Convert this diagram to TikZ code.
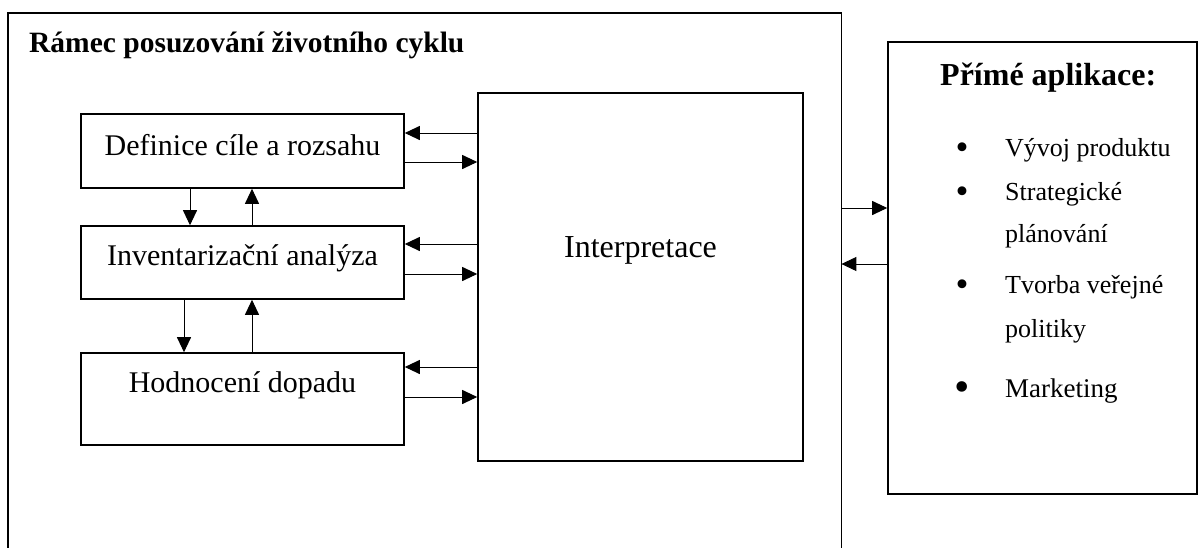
\documentclass[tikz,border=0pt]{standalone}
\usepackage{fontspec}
\setmainfont{Liberation Serif}
\usetikzlibrary{arrows.meta}

\tikzset{
  box/.style={draw, line width=1.6pt, rectangle, inner sep=0pt},
  arr/.style={line width=1pt, -{Triangle[length=15pt,width=14pt]}},
  boxtext/.style={anchor=base, inner sep=0pt, font=\fontsize{30}{36}\selectfont},
  bigtext/.style={anchor=base, inner sep=0pt, font=\fontsize{32}{38}\selectfont},
  headtext/.style={anchor=base west, inner sep=0pt, font=\fontsize{29.5}{36}\selectfont\bfseries},
  itemtext/.style={anchor=base west, inner sep=0pt, font=\fontsize{26}{30}\selectfont},
  dot/.style={anchor=base, inner sep=0pt, font=\fontsize{37}{40}\selectfont},
}

\begin{document}
\begin{tikzpicture}[x=1pt, y=-1pt]
\useasboundingbox (0,0) rectangle (1200,547);

% outer frame (open at the bottom)
\node[inner sep=0pt, minimum width=833pt, minimum height=560pt, anchor=north west] (frame) at (8,13) {};
\draw[line width=1.6pt] (frame.south west) -- (frame.north west) -- (frame.north east) -- (frame.south east);
\node[headtext] (frametitle) at (29,52) {Rámec posuzování životního cyklu};

% phase boxes
\node[box, minimum width=323pt, minimum height=74pt] (def) at (242.5,151) {};
\node[box, minimum width=323pt, minimum height=73pt] (inv) at (242.5,262.5) {};
\node[box, minimum width=323pt, minimum height=92pt] (hod) at (242.5,399) {};
\node[box, minimum width=325pt, minimum height=368pt] (interp) at (640.5,277) {};

\node[boxtext] (deftext) at (def.center |- 0,155) {Definice cíle a rozsahu};
\node[boxtext] (invtext) at (inv.center |- 0,265) {Inventarizační analýza};
\node[boxtext] (hodtext) at (hod.center |- 0,392) {Hodnocení dopadu};
\node[bigtext] (interptext) at (interp.center |- 0,257) {Interpretace};

% applications box
\node[box, minimum width=309pt, minimum height=452pt] (app) at (1042.5,268) {};
\node[headtext, font=\fontsize{32}{38}\selectfont\bfseries] (apphead) at (940,85) {Přímé aplikace:};
\node[dot] (b1) at (962,159) {•};
\node[itemtext] (i1) at (1005,156) {Vývoj produktu};
\node[dot] (b2) at (962,203) {•};
\node[itemtext] (i2) at (1005,200) {Strategické};
\node[itemtext] (i2b) at (1005,242) {plánování};
\node[dot] (b3) at (962,296) {•};
\node[itemtext] (i3) at (1005,293) {Tvorba veřejné};
\node[itemtext] (i3b) at (1005,337) {politiky};
\node[dot, font=\fontsize{44}{46}\selectfont] (b4) at (962,401) {•};
\node[itemtext, font=\fontsize{27}{30}\selectfont] (i4) at (1005,397) {Marketing};

% rows and columns of the connectors
\coordinate (r1) at (0,133);
\coordinate (r2) at (0,162);
\coordinate (r3) at (0,244);
\coordinate (r4) at (0,274);
\coordinate (r5) at (0,367);
\coordinate (r6) at (0,397);
\coordinate (r7) at (0,208);
\coordinate (r8) at (0,264);
\coordinate (c1) at (190,0);
\coordinate (c2) at (252,0);
\coordinate (c3) at (184,0);

% interpretation <-> phases
\draw[arr] (interp.west |- r1) -- (def.east |- r1);
\draw[arr] (def.east |- r2) -- (interp.west |- r2);
\draw[arr] (interp.west |- r3) -- (inv.east |- r3);
\draw[arr] (inv.east |- r4) -- (interp.west |- r4);
\draw[arr] (interp.west |- r5) -- (hod.east |- r5);
\draw[arr] (hod.east |- r6) -- (interp.west |- r6);

% phases among themselves
\draw[arr] (def.south -| c1) -- (inv.north -| c1);
\draw[arr] (inv.north -| c2) -- (def.south -| c2);
\draw[arr] (inv.south -| c3) -- (hod.north -| c3);
\draw[arr] (hod.north -| c2) -- (inv.south -| c2);

% frame <-> applications
\draw[arr] (frame.east |- r7) -- (app.west |- r7);
\draw[arr] (app.west |- r8) -- (frame.east |- r8);
\end{tikzpicture}
\end{document}
